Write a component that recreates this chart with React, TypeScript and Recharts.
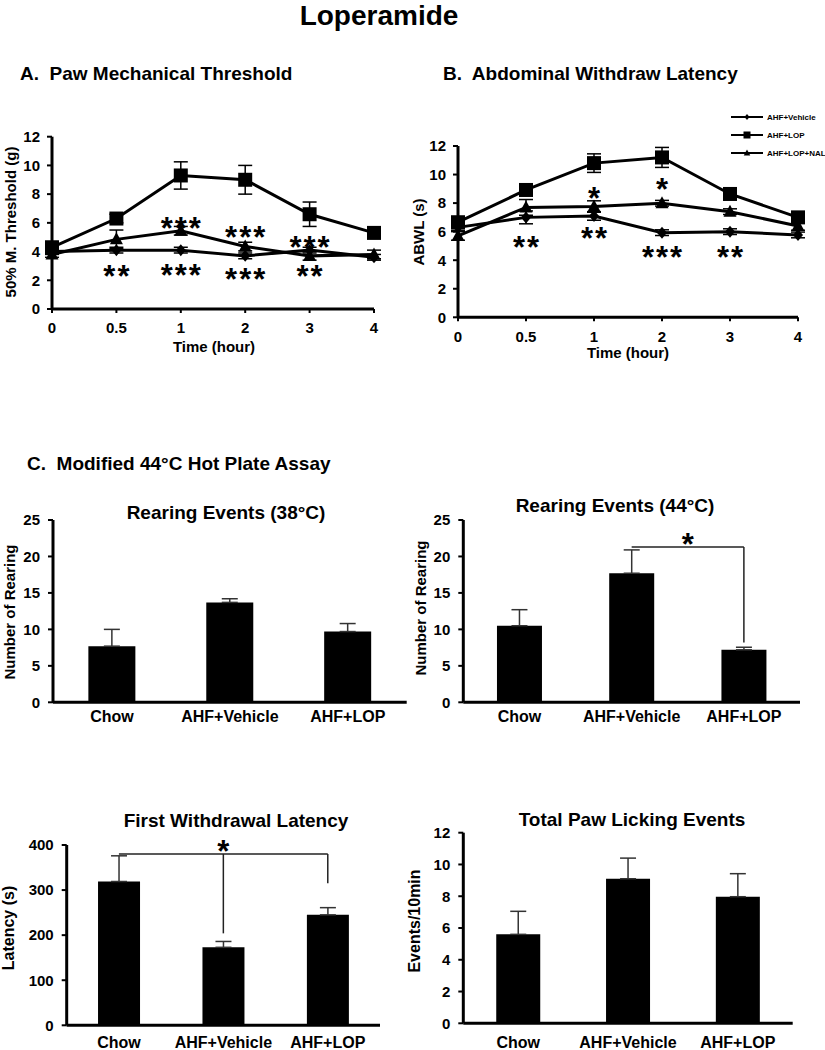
import React from "react";
import {
  LineChart,
  Line,
  BarChart,
  Bar,
  XAxis,
  YAxis,
  ErrorBar,
  ReferenceDot,
  ReferenceLine,
  Legend,
} from "recharts";

const FONT = '"Liberation Sans", Arial, Helvetica, sans-serif';

// time points (hour)
const times = ["0", "0.5", "1", "2", "3", "4"];

// A. paw mechanical threshold (g)
const pawVehicle = [4.0, 4.1, 4.1, 3.7, 4.1, 3.6];
const pawVehicleErr = [0.2, 0.2, 0.2, 0.2, 0.2, 0.2];
const pawLop = [4.3, 6.3, 9.3, 9.0, 6.6, 5.3];
const pawLopErr = [0.3, 0.3, 0.95, 1.0, 0.85, 0.3];
const pawNal = [3.8, 4.85, 5.45, 4.35, 3.7, 3.8];
const pawNalErr = [0.2, 0.65, 0.3, 0.3, 0.3, 0.3];
const pawTicks = [0, 2, 4, 6, 8, 10, 12];
const pawStars = [
  { t: "1", v: 6.05, s: "***" },
  { t: "2", v: 5.45, s: "***" },
  { t: "3", v: 4.75, s: "***" },
  { t: "0.5", v: 2.72, s: "**" },
  { t: "1", v: 2.76, s: "***" },
  { t: "2", v: 2.48, s: "***" },
  { t: "3", v: 2.72, s: "**" },
];

// B. abdominal withdraw latency (s)
const abwlVehicle = [6.3, 7.0, 7.1, 5.93, 6.0, 5.77];
const abwlVehicleErr = [0.2, 0.45, 0.3, 0.2, 0.2, 0.2];
const abwlLop = [6.66, 8.92, 10.8, 11.2, 8.64, 7.0];
const abwlLopErr = [0.3, 0.3, 0.65, 0.7, 0.3, 0.3];
const abwlNal = [5.7, 7.7, 7.76, 7.99, 7.4, 6.4];
const abwlNalErr = [0.3, 0.55, 0.4, 0.2, 0.2, 0.3];
const abwlTicks = [0, 2, 4, 6, 8, 10, 12];
const abwlStars = [
  { t: "0.5", v: 5.37, s: "**" },
  { t: "1", v: 8.75, s: "*" },
  { t: "1", v: 6.0, s: "**" },
  { t: "2", v: 9.4, s: "*" },
  { t: "2", v: 4.67, s: "***" },
  { t: "3", v: 4.67, s: "**" },
];

// C. hot plate assay
const groups = ["Chow", "AHF+Vehicle", "AHF+LOP"];
const rearing38 = [7.7, 13.7, 9.7];
const rearing38Err = [2.3, 0.5, 1.1];
const rearing44 = [10.5, 17.7, 7.2];
const rearing44Err = [2.2, 3.2, 0.35];
const latency = [319, 173, 245];
const latencyErr = [57, 13, 16];
const licking = [5.6, 9.1, 7.97];
const lickingErr = [1.45, 1.3, 1.45];
const rearingTicks = [0, 5, 10, 15, 20, 25];
const latencyTicks = [0, 100, 200, 300, 400];
const lickingTicks = [0, 2, 4, 6, 8, 10, 12];

// significance brackets: [x1, y1, x2, y2]
const rearing44Bracket: [string, number, string, number][] = [
  ["AHF+Vehicle", 21.3, "AHF+LOP", 21.3],
  ["AHF+LOP", 21.3, "AHF+LOP", 8.2],
];
const latencyBracket: [string, number, string, number][] = [
  ["Chow", 380, "AHF+LOP", 380],
  ["AHF+Vehicle", 380, "AHF+Vehicle", 204],
  ["AHF+LOP", 380, "AHF+LOP", 315],
];

const legendOrder = ["veh", "lop", "nal"];
const legendShapes: Record<string, string> = { veh: "diamond", lop: "square", nal: "triangle" };

function toSeries(v: number[], ve: number[], l: number[], le: number[], n: number[], ne: number[]) {
  return times.map((t, i) => ({
    t,
    veh: v[i],
    vehErr: ve[i],
    lop: l[i],
    lopErr: le[i],
    nal: n[i],
    nalErr: ne[i],
  }));
}

const pawData = toSeries(pawVehicle, pawVehicleErr, pawLop, pawLopErr, pawNal, pawNalErr);
const abwlData = toSeries(abwlVehicle, abwlVehicleErr, abwlLop, abwlLopErr, abwlNal, abwlNalErr);

// bar error bars only go up, so the lower half is zero
const toBars = (vals: number[], errs: number[]) =>
  groups.map((g, i) => ({ g, v: vals[i], err: [0, errs[i]] }));

function marker(shape: string, cx: number, cy: number, s = 1) {
  if (shape === "diamond")
    return (
      <path
        d={`M${cx},${cy - 6 * s}L${cx + 5 * s},${cy}L${cx},${cy + 6 * s}L${cx - 5 * s},${cy}Z`}
        fill="#000"
      />
    );
  if (shape === "square")
    return <rect x={cx - 7 * s} y={cy - 7 * s} width={14 * s} height={14 * s} fill="#000" />;
  return (
    <path
      d={`M${cx},${cy - 7 * s}L${cx + 6.5 * s},${cy + 5 * s}L${cx - 6.5 * s},${cy + 5 * s}Z`}
      fill="#000"
    />
  );
}

function dotOf(shape: string) {
  return (p: any) => <g key={`${shape}-${p.index}`}>{marker(shape, p.cx, p.cy)}</g>;
}

function Stars({ cx, cy, text }: { cx?: number; cy?: number; text: string }) {
  if (cx == null || cy == null) return null;
  return (
    <text
      x={cx + 1}
      y={cy + 17}
      textAnchor="middle"
      fontSize={31}
      fontWeight="bold"
      letterSpacing={2}
      fontFamily={FONT}
      fill="#000"
    >
      {text}
    </text>
  );
}

function LegendBox({ payload }: any) {
  const items = [...(payload || [])].sort(
    (a: any, b: any) => legendOrder.indexOf(a.dataKey) - legendOrder.indexOf(b.dataKey)
  );
  return (
    <div style={{ fontFamily: FONT, fontSize: 8, fontWeight: "bold", color: "#000" }}>
      {items.map((item: any) => (
        <div key={item.value} style={{ display: "flex", alignItems: "center", height: 18 }}>
          <svg width={33} height={10} style={{ marginRight: 3 }}>
            <line x1={0} y1={5} x2={32} y2={5} stroke="#000" strokeWidth={2} />
            {marker(legendShapes[item.dataKey], 16, 5, 0.5)}
          </svg>
          <span>{item.value}</span>
        </div>
      ))}
    </div>
  );
}

const tickFont = { fill: "#000", fontSize: 15, fontWeight: "bold", fontFamily: FONT };
const axisStyle = { stroke: "#000", strokeWidth: 3 };
const tickLineStyle = { stroke: "#000", strokeWidth: 2 };

function TimeCourse({
  data,
  ticks,
  stars,
  width,
  height,
  margin,
  xTickMargin,
  withLegend,
}: {
  data: any[];
  ticks: number[];
  stars: { t: string; v: number; s: string }[];
  width: number;
  height: number;
  margin: { top: number; right: number; left: number; bottom: number };
  xTickMargin: number;
  withLegend?: boolean;
}) {
  return (
    <LineChart width={width} height={height} data={data} margin={margin}>
      <XAxis
        dataKey="t"
        height={20}
        tick={tickFont}
        axisLine={axisStyle}
        tickLine={tickLineStyle}
        tickSize={4}
        tickMargin={xTickMargin}
        interval={0}
      />
      <YAxis
        domain={[0, 12]}
        ticks={ticks}
        interval={0}
        width={30}
        tick={tickFont}
        axisLine={axisStyle}
        tickLine={tickLineStyle}
        tickSize={5}
        tickMargin={7}
      />
      {withLegend && (
        <Legend
          layout="vertical"
          align="center"
          verticalAlign="middle"
          content={<LegendBox />}
          wrapperStyle={{ position: "absolute", left: 321, top: 8, width: 100 }}
        />
      )}
      <Line
        dataKey="veh"
        name="AHF+Vehicle"
        stroke="#000"
        strokeWidth={3}
        dot={dotOf("diamond")}
        activeDot={false}
        isAnimationActive={false}
      >
        <ErrorBar dataKey="vehErr" direction="y" width={7} stroke="#000" strokeWidth={1.5} />
      </Line>
      <Line
        dataKey="lop"
        name="AHF+LOP"
        stroke="#000"
        strokeWidth={3}
        dot={dotOf("square")}
        activeDot={false}
        isAnimationActive={false}
      >
        <ErrorBar dataKey="lopErr" direction="y" width={7} stroke="#000" strokeWidth={1.5} />
      </Line>
      <Line
        dataKey="nal"
        name="AHF+LOP+NAL"
        stroke="#000"
        strokeWidth={3}
        dot={dotOf("triangle")}
        activeDot={false}
        isAnimationActive={false}
      >
        <ErrorBar dataKey="nalErr" direction="y" width={7} stroke="#000" strokeWidth={1.5} />
      </Line>
      {stars.map((s, i) => (
        <ReferenceDot
          key={i}
          x={s.t}
          y={s.v}
          r={0}
          shape={(p: any) => <Stars cx={p.cx} cy={p.cy} text={s.s} />}
        />
      ))}
    </LineChart>
  );
}

function BarPanel({
  data,
  ticks,
  width,
  height,
  margin,
  yWidth,
  xTickMargin,
  bracket,
}: {
  data: { g: string; v: number; err: number[] }[];
  ticks: number[];
  width: number;
  height: number;
  margin: { top: number; right: number; left: number; bottom: number };
  yWidth: number;
  xTickMargin: number;
  bracket?: [string, number, string, number][];
}) {
  const max = ticks[ticks.length - 1];
  return (
    <BarChart width={width} height={height} data={data} margin={margin} barCategoryGap="30%">
      <XAxis
        dataKey="g"
        height={20}
        tick={{ ...tickFont, fontSize: 16 }}
        axisLine={axisStyle}
        tickLine={false}
        tickSize={4}
        tickMargin={xTickMargin}
        interval={0}
      />
      <YAxis
        domain={[0, max]}
        ticks={ticks}
        interval={0}
        width={yWidth}
        tick={tickFont}
        axisLine={axisStyle}
        tickLine={tickLineStyle}
        tickSize={5}
        tickMargin={8}
      />
      <Bar dataKey="v" fill="#000" isAnimationActive={false}>
        <ErrorBar dataKey="err" direction="y" width={8} stroke="#333" strokeWidth={1.5} />
      </Bar>
      {(bracket || []).map((b, i) => (
        <ReferenceLine
          key={i}
          segment={[
            { x: b[0], y: b[1] },
            { x: b[2], y: b[3] },
          ]}
          stroke="#222"
          strokeWidth={1.5}
          label={
            i === 0
              ? (p: any) => {
                  const vb = p.viewBox || {};
                  return (
                    <text
                      x={vb.x + (vb.width || 0) / 2}
                      y={vb.y + 8}
                      textAnchor="middle"
                      fontSize={31}
                      fontWeight="bold"
                      fontFamily={FONT}
                      fill="#000"
                    >
                      *
                    </text>
                  );
                }
              : undefined
          }
        />
      ))}
    </BarChart>
  );
}

function Title({
  text,
  x,
  y,
  size,
  align = "center",
}: {
  text: string;
  x: number;
  y: number;
  size: number;
  align?: "left" | "center";
}) {
  const tx = align === "center" ? "-50%" : "0";
  return (
    <div
      style={{
        position: "absolute",
        left: x,
        top: y,
        transform: `translate(${tx}, -50%)`,
        whiteSpace: "pre",
        fontFamily: FONT,
        fontWeight: "bold",
        fontSize: size,
        lineHeight: 1,
        color: "#000",
      }}
    >
      {text}
    </div>
  );
}

function VLabel({ text, x, y, size }: { text: string; x: number; y: number; size: number }) {
  return (
    <div
      style={{
        position: "absolute",
        left: x,
        top: y,
        transform: "translate(-50%, -50%) rotate(-90deg)",
        whiteSpace: "nowrap",
        fontFamily: FONT,
        fontWeight: "bold",
        fontSize: size,
        lineHeight: 1,
        color: "#000",
      }}
    >
      {text}
    </div>
  );
}

const box = (left: number, top: number): React.CSSProperties => ({ position: "absolute", left, top });

export default function App() {
  return (
    <div
      style={{
        position: "absolute",
        left: 0,
        top: 0,
        width: 825,
        height: 1050,
        background: "#fff",
        overflow: "hidden",
      }}
    >
      <Title text="Loperamide" x={379} y={16} size={28} />
      <Title text="A.  Paw Mechanical Threshold" x={20} y={73} size={19} align="left" />
      <Title text="B.  Abdominal Withdraw Latency" x={443} y={73} size={19} align="left" />
      <Title text="C.  Modified 44°C Hot Plate Assay" x={27} y={463} size={19} align="left" />

      <div style={box(0, 100)}>
        <TimeCourse
          data={pawData}
          ticks={pawTicks}
          stars={pawStars}
          width={410}
          height={260}
          margin={{ top: 36.7, right: 36, left: 22, bottom: 31 }}
          xTickMargin={9}
        />
      </div>
      <VLabel text="50% M. Threshold (g)" x={10} y={222} size={15} />
      <Title text="Time (hour)" x={214} y={346} size={15} />

      <div style={box(410, 100)}>
        <TimeCourse
          data={abwlData}
          ticks={abwlTicks}
          stars={abwlStars}
          width={415}
          height={260}
          margin={{ top: 46, right: 27, left: 18, bottom: 22.7 }}
          xTickMargin={10}
          withLegend
        />
      </div>
      <VLabel text="ABWL (s)" x={418} y={232} size={15} />
      <Title text="Time (hour)" x={628} y={352} size={15} />

      <Title text="Rearing Events (38°C)" x={226} y={512} size={19} />
      <div style={box(0, 490)}>
        <BarPanel
          data={toBars(rearing38, rearing38Err)}
          ticks={rearingTicks}
          width={420}
          height={250}
          margin={{ top: 30, right: 13.3, left: 23, bottom: 17.7 }}
          yWidth={30}
          xTickMargin={4}
        />
      </div>
      <VLabel text="Number of Rearing" x={9} y={612} size={15} />

      <Title text="Rearing Events (44°C)" x={615} y={505} size={19} />
      <div style={box(410, 490)}>
        <BarPanel
          data={toBars(rearing44, rearing44Err)}
          ticks={rearingTicks}
          width={415}
          height={250}
          margin={{ top: 30, right: 25, left: 23.3, bottom: 17.7 }}
          yWidth={30}
          xTickMargin={4}
          bracket={rearing44Bracket}
        />
      </div>
      <VLabel text="Number of Rearing" x={420} y={608} size={15} />

      <Title text="First Withdrawal Latency" x={236} y={820} size={19} />
      <div style={box(0, 800)}>
        <BarPanel
          data={toBars(latency, latencyErr)}
          ticks={latencyTicks}
          width={420}
          height={250}
          margin={{ top: 45, right: 40, left: 26.7, bottom: 4.7 }}
          yWidth={40}
          xTickMargin={7}
          bracket={latencyBracket}
        />
      </div>
      <VLabel text="Latency (s)" x={9} y={928} size={16} />

      <Title text="Total Paw Licking Events" x={632} y={819} size={19} />
      <div style={box(410, 800)}>
        <BarPanel
          data={toBars(licking, lickingErr)}
          ticks={lickingTicks}
          width={415}
          height={250}
          margin={{ top: 32.7, right: 32.3, left: 23.3, bottom: 6.7 }}
          yWidth={30}
          xTickMargin={9}
        />
      </div>
      <VLabel text="Events/10min" x={415} y={921} size={16} />
    </div>
  );
}
